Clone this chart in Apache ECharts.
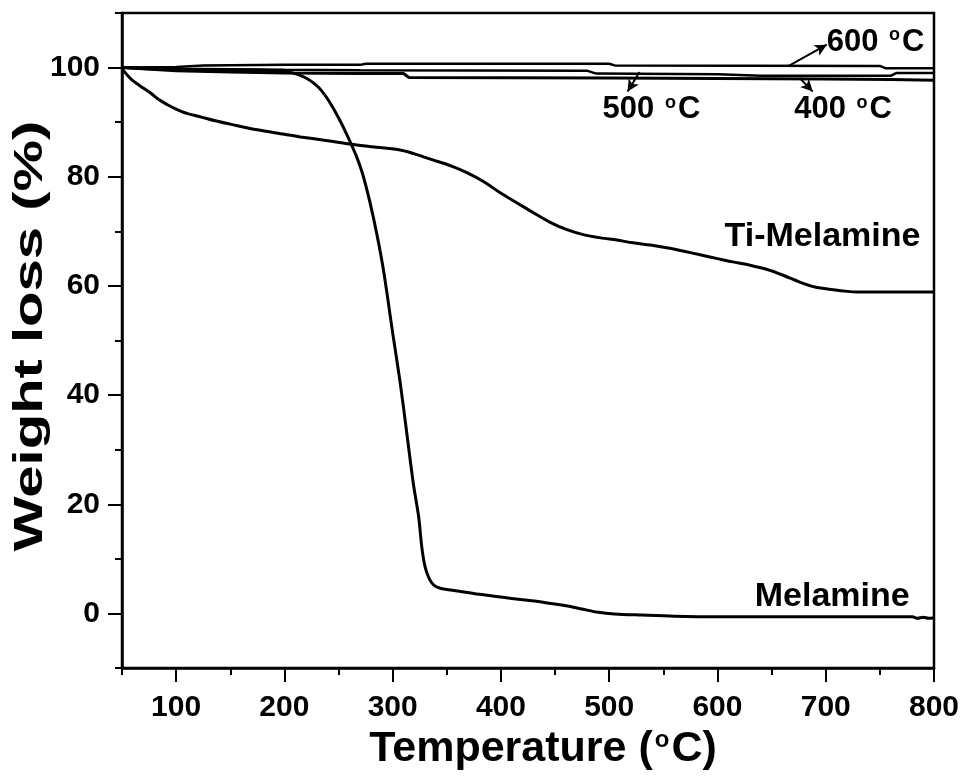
<!DOCTYPE html>
<html>
<head>
<meta charset="utf-8">
<script src="https://cdn.jsdelivr.net/npm/echarts@6/dist/echarts.min.js"></script>
<style>
html,body{margin:0;padding:0;background:#fff;}
#chart{width:964px;height:777px;}
</style>
</head>
<body>
<div id="chart"></div>
<script>
// ---- data (temperature °C, weight %) ----
const melamine = [[50,100],[75,99.8],[100,99.7],[125,99.6],[150,99.6],[180,99.5],[200,99.3],[210,98.9],[220,98.1],[228,97.0],[235,95.6],[242,93.6],[250,90.8],[258,87.6],[266,84.0],[273,80.0],[282,72.7],[291,63.5],[300,51.4],[307,42.2],[313,33.1],[319,23.9],[324,17.7],[327,12.0],[330,8.5],[334,6.3],[338,5.2],[344,4.6],[360,4.1],[380,3.5],[400,3.0],[420,2.5],[440,2.0],[460,1.4],[475,0.8],[490,0.2],[505,-0.1],[530,-0.3],[560,-0.5],[600,-0.6],[700,-0.6],[780,-0.6],[785,-0.9],[790,-0.7],[795,-0.9],[800,-0.8]];
const tiMelamine = [[50,99.8],[55,98.6],[60,97.6],[70,96.2],[76,95.4],[85,94.0],[92,93.2],[100,92.4],[110,91.6],[122,91.0],[135,90.3],[153,89.5],[175,88.6],[200,87.8],[215,87.3],[240,86.6],[264,85.9],[285,85.4],[307,84.9],[320,84.2],[337,83.1],[355,81.9],[369,80.7],[385,79.0],[399,77.1],[415,75.2],[430,73.4],[445,71.7],[461,70.3],[476,69.4],[492,68.8],[507,68.4],[522,67.9],[538,67.5],[553,67.0],[568,66.4],[584,65.7],[600,65.0],[614,64.4],[630,63.8],[646,63.0],[660,62.0],[676,60.7],[690,59.8],[707,59.3],[720,59.0],[729,58.9],[800,58.9]];
const t600 = [[50,100],[100,100.1],[125,100.4],[200,100.5],[270,100.5],[275,100.7],[500,100.7],[505,100.4],[750,100.3],[755,99.9],[800,99.9]];
const t500 = [[50,100],[100,99.8],[150,99.7],[200,99.6],[270,99.5],[480,99.4],[488,98.9],[600,98.8],[640,98.5],[760,98.5],[765,99.0],[800,99.0]];
const t400 = [[50,100],[100,99.4],[150,99.2],[200,99.0],[270,98.9],[310,98.9],[315,98.2],[500,98.1],[600,98.0],[700,97.9],[760,97.8],[800,97.7]];

const xMajor = [100,200,300,400,500,600,700,800];
const xMinor = [50,150,250,350,450,550,650,750];
const yMajor = [0,20,40,60,80,100];
const yMinor = [-10,10,30,50,70,90,110];

const xTitle = 'Temperature ({sup|o}C)';
const yTitle = 'Weight loss (%)';

// annotations: text and anchor (data coords)
const annoText = ['600 {sup|o}C','500 {sup|o}C','400 {sup|o}C','{big|Ti-Melamine}','{big|Melamine}'];
const annoAt = [[746,104.6],[539,92.3],[716,92.3],[697,69.0],[706,3.0]];
// arrows: from curve point to label
const arrows = [[[665,100.2],[701,104.2]],[[528,99.2],[517,95.6]],[[676,98.1],[688,95.6]]];

const FONT = '"Liberation Sans", Arial, sans-serif';
const rich = {
  sup: {fontSize: 18, fontWeight: 'bold', fontFamily: FONT, color: '#000', verticalAlign: 'top', padding: [0,2,14,2]},
  big: {fontSize: 34, fontWeight: 'bold', fontFamily: FONT, color: '#000'}
};
const richTitle = {
  sup: {fontSize: 24, fontWeight: 'bold', fontFamily: FONT, color: '#000', verticalAlign: 'top', padding: [0,2,19,2]}
};

const chart = echarts.init(document.getElementById('chart'), null, {renderer: 'canvas'});

function lineSeries(name, data, w, smooth) {
  return {
    name, type: 'line', data, showSymbol: false, symbol: 'none',
    smooth: smooth, xAxisIndex: 0, yAxisIndex: 0,
    lineStyle: {color: '#000', width: w}, z: 3
  };
}

const option = {
  animation: false,
  backgroundColor: '#fff',
  grid: {left: 122, right: 30, top: 13, bottom: 109, show: true, borderColor: '#000', borderWidth: 2.5, outerBoundsMode: 'none', containLabel: false},
  graphic: [{
    type: 'text', x: 31, y: 336, rotation: Math.PI / 2, scaleX: 1.45, scaleY: 1,
    style: {text: yTitle, fontSize: 40, fontWeight: 'bold', fontFamily: FONT, fill: '#000', align: 'center', verticalAlign: 'middle'}
  }],
  xAxis: [{
    type: 'value', min: 50, max: 800, position: 'bottom',
    name: xTitle, nameLocation: 'middle', nameGap: 52,
    nameTextStyle: {fontSize: 43, fontWeight: 'bold', fontFamily: FONT, color: '#000', padding: [0,0,0,30], rich: richTitle},
    axisLine: {show: true, onZero: false, lineStyle: {color: '#000', width: 2.5}},
    axisTick: {show: true, customValues: xMajor, length: 14, lineStyle: {color: '#000', width: 2}},
    axisLabel: {show: true, customValues: xMajor, margin: 25, fontSize: 30, fontWeight: 'bold', fontFamily: FONT, color: '#000'},
    splitLine: {show: false}
  }, {
    type: 'value', min: 50, max: 800, position: 'bottom', gridIndex: 0,
    axisLine: {show: false, onZero: false},
    axisTick: {show: true, customValues: xMinor, length: 7, lineStyle: {color: '#000', width: 2}},
    axisLabel: {show: false}, splitLine: {show: false}
  }],
  yAxis: [{
    type: 'value', min: -10, max: 110, position: 'left',
    axisLine: {show: true, onZero: false, lineStyle: {color: '#000', width: 2.5}},
    axisTick: {show: true, customValues: yMajor, length: 14, lineStyle: {color: '#000', width: 2}},
    axisLabel: {show: true, customValues: yMajor, margin: 22, fontSize: 30, fontWeight: 'bold', fontFamily: FONT, color: '#000'},
    splitLine: {show: false}
  }, {
    type: 'value', min: -10, max: 110, position: 'left', gridIndex: 0,
    axisLine: {show: false, onZero: false},
    axisTick: {show: true, customValues: yMinor, length: 7, lineStyle: {color: '#000', width: 2}},
    axisLabel: {show: false}, splitLine: {show: false}
  }],
  series: [
    lineSeries('600 °C', t600, 2.5, false),
    lineSeries('500 °C', t500, 2.5, false),
    lineSeries('400 °C', t400, 3, false),
    lineSeries('Melamine', melamine, 3, 0.3),
    lineSeries('Ti-Melamine', tiMelamine, 3, 0.3),
    {
      name: 'annotations', type: 'scatter', xAxisIndex: 0, yAxisIndex: 0,
      symbolSize: 0, silent: true, z: 5,
      itemStyle: {color: '#000', opacity: 1},
      data: annoAt.map((p, i) => ({value: p, label: {formatter: annoText[i]}})),
      label: {show: true, position: 'inside', color: '#000', opacity: 1, textBorderWidth: 0, textBorderColor: 'transparent',
              fontSize: 31, fontWeight: 'bold', fontFamily: FONT, rich: rich},
      markLine: {
        silent: true, symbol: ['none', 'arrow'], symbolSize: [9, 12],
        lineStyle: {color: '#000', width: 2, type: 'solid', opacity: 1},
        label: {show: false},
        data: arrows.map(a => [{coord: a[0]}, {coord: a[1]}])
      }
    }
  ]
};
chart.setOption(option);
</script>
</body>
</html>
